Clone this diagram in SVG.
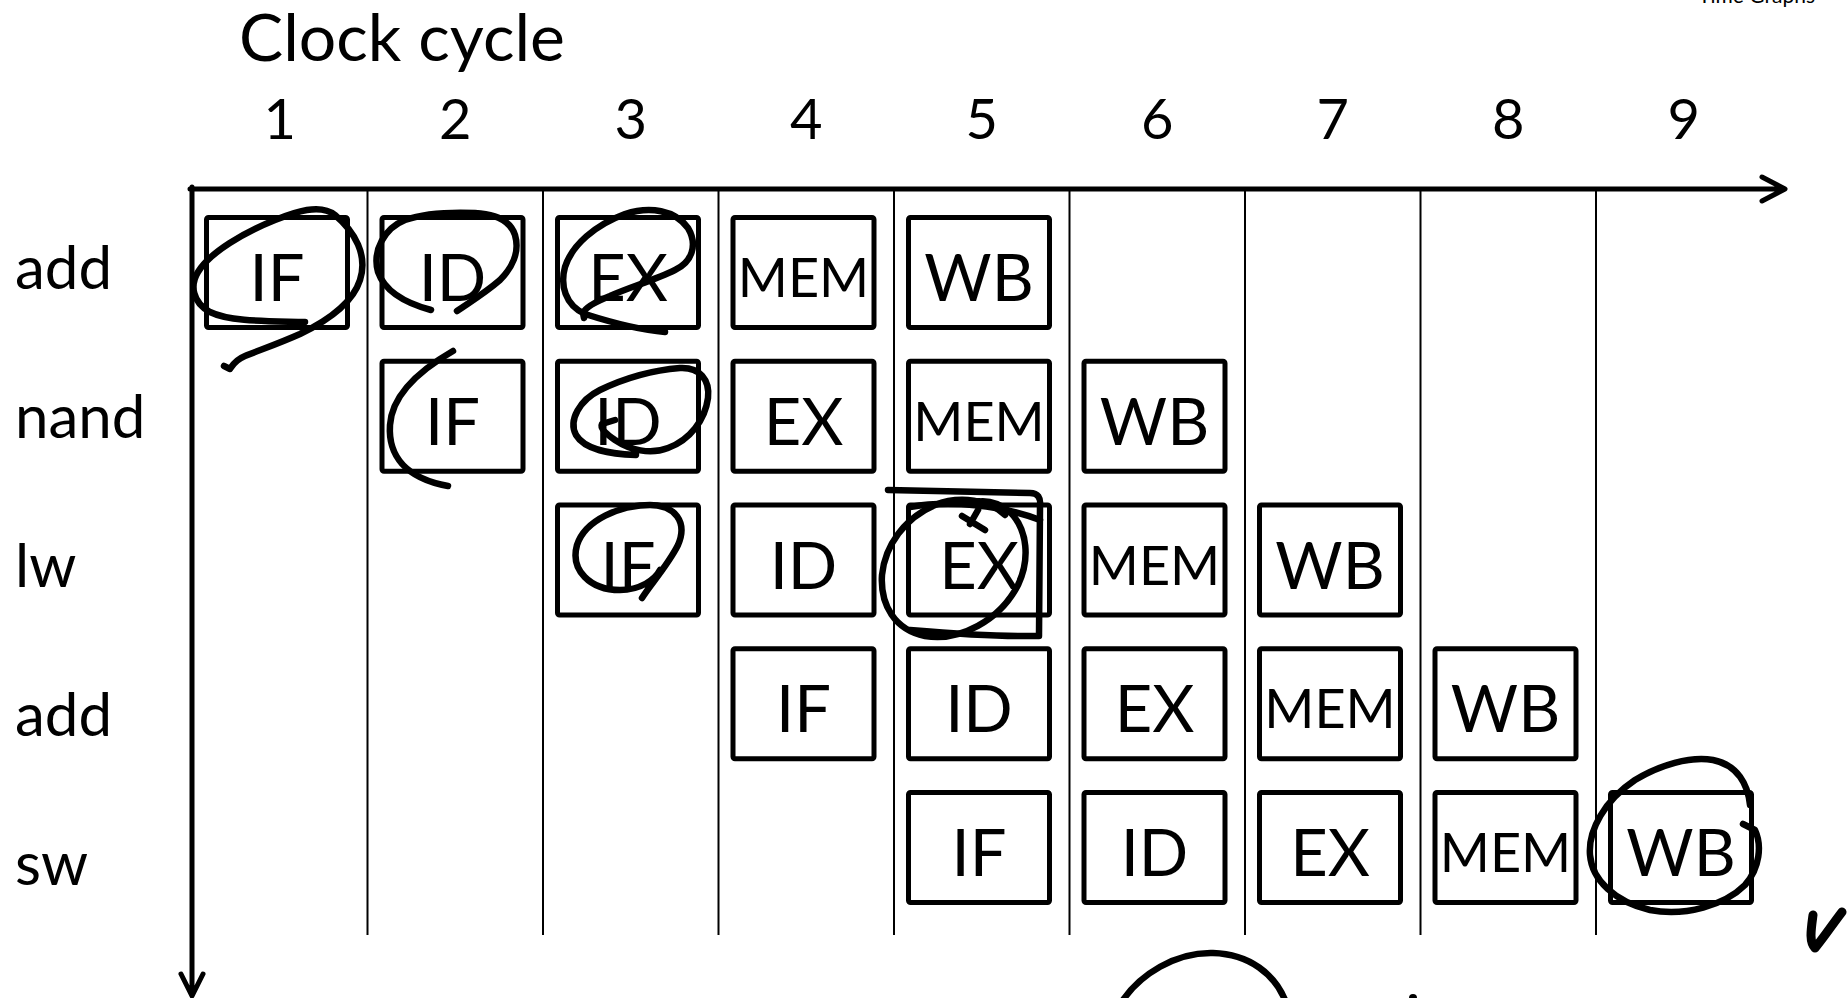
<svg xmlns="http://www.w3.org/2000/svg" width="1847" height="998" viewBox="0 0 1847 998">
<style>
text{font-family:Lato,"Open Sans","Liberation Sans",sans-serif;fill:#000}
.box{fill:none;stroke:#000;stroke-width:5;stroke-linejoin:round}
.st{font-size:65px;text-anchor:middle}
.mem{font-size:54px;text-anchor:middle}
.num{font-size:56px;text-anchor:middle}
.lbl{font-size:60px}
.ax{fill:none;stroke:#000;stroke-width:5;stroke-linecap:round;stroke-linejoin:round}
.grid{stroke:#000;stroke-width:2}
.ink{fill:none;stroke:#000;stroke-width:6.5;stroke-linecap:round;stroke-linejoin:round}
</style>
<rect x="0" y="0" width="1847" height="998" fill="#fff"/>
<text x="1815" y="3" font-size="21" text-anchor="end">Time Graphs</text>
<text x="239" y="61" font-size="65" textLength="326" lengthAdjust="spacingAndGlyphs">Clock cycle</text>
<g id="cycle-numbers">
<text class="num" x="279.75" y="139">1</text>
<text class="num" x="455.25" y="139">2</text>
<text class="num" x="630.75" y="139">3</text>
<text class="num" x="806.25" y="139">4</text>
<text class="num" x="981.75" y="139">5</text>
<text class="num" x="1157.25" y="139">6</text>
<text class="num" x="1332.75" y="139">7</text>
<text class="num" x="1508.25" y="139">8</text>
<text class="num" x="1683.75" y="139">9</text>
</g>
<g id="row-labels">
<text class="lbl" x="15" y="289">add</text>
<text class="lbl" x="15" y="438">nand</text>
<text class="lbl" x="15" y="587">lw</text>
<text class="lbl" x="15" y="736">add</text>
<text class="lbl" x="15" y="885">sw</text>
</g>
<g id="connectors">
<g class="grid">
<line x1="367.5" y1="189" x2="367.5" y2="935"/>
<line x1="543" y1="189" x2="543" y2="935"/>
<line x1="718.5" y1="189" x2="718.5" y2="935"/>
<line x1="894" y1="189" x2="894" y2="935"/>
<line x1="1069.5" y1="189" x2="1069.5" y2="935"/>
<line x1="1245" y1="189" x2="1245" y2="935"/>
<line x1="1420.5" y1="189" x2="1420.5" y2="935"/>
<line x1="1596" y1="189" x2="1596" y2="935"/>
</g>
<path class="ax" d="M190 189 L1784 189 M1762 177 L1785 189 L1762 201"/>
<path class="ax" d="M192 187 L192 995 M181 974 L192 996 L203 974"/>
</g>
<g id="row1-add">
<rect class="box" x="206.5" y="217.5" width="141" height="110" rx="2"/><text class="st" x="277" y="301">IF</text>
<rect class="box" x="382" y="217.5" width="141" height="110" rx="2"/><text class="st" x="452.5" y="301">ID</text>
<rect class="box" x="557.5" y="217.5" width="141" height="110" rx="2"/><text class="st" x="628" y="301">EX</text>
<rect class="box" x="733" y="217.5" width="141" height="110" rx="2"/><text class="mem" x="803.5" y="297">MEM</text>
<rect class="box" x="908.5" y="217.5" width="141" height="110" rx="2"/><text class="st" x="979" y="301">WB</text>
</g>
<g id="row2-nand">
<rect class="box" x="382" y="361.25" width="141" height="110" rx="2"/><text class="st" x="452.5" y="444.75">IF</text>
<rect class="box" x="557.5" y="361.25" width="141" height="110" rx="2"/><text class="st" x="628" y="444.75">ID</text>
<rect class="box" x="733" y="361.25" width="141" height="110" rx="2"/><text class="st" x="803.5" y="444.75">EX</text>
<rect class="box" x="908.5" y="361.25" width="141" height="110" rx="2"/><text class="mem" x="979" y="440.75">MEM</text>
<rect class="box" x="1084" y="361.25" width="141" height="110" rx="2"/><text class="st" x="1154.5" y="444.75">WB</text>
</g>
<g id="row3-lw">
<rect class="box" x="557.5" y="505" width="141" height="110" rx="2"/><text class="st" x="628" y="588.5">IF</text>
<rect class="box" x="733" y="505" width="141" height="110" rx="2"/><text class="st" x="803.5" y="588.5">ID</text>
<rect class="box" x="908.5" y="505" width="141" height="110" rx="2"/><text class="st" x="979" y="588.5">EX</text>
<rect class="box" x="1084" y="505" width="141" height="110" rx="2"/><text class="mem" x="1154.5" y="584.5">MEM</text>
<rect class="box" x="1259.5" y="505" width="141" height="110" rx="2"/><text class="st" x="1330" y="588.5">WB</text>
</g>
<g id="row4-add">
<rect class="box" x="733" y="648.75" width="141" height="110" rx="2"/><text class="st" x="803.5" y="732.25">IF</text>
<rect class="box" x="908.5" y="648.75" width="141" height="110" rx="2"/><text class="st" x="979" y="732.25">ID</text>
<rect class="box" x="1084" y="648.75" width="141" height="110" rx="2"/><text class="st" x="1154.5" y="732.25">EX</text>
<rect class="box" x="1259.5" y="648.75" width="141" height="110" rx="2"/><text class="mem" x="1330" y="728.25">MEM</text>
<rect class="box" x="1435" y="648.75" width="141" height="110" rx="2"/><text class="st" x="1505.5" y="732.25">WB</text>
</g>
<g id="row5-sw">
<rect class="box" x="908.5" y="792.5" width="141" height="110" rx="2"/><text class="st" x="979" y="876">IF</text>
<rect class="box" x="1084" y="792.5" width="141" height="110" rx="2"/><text class="st" x="1154.5" y="876">ID</text>
<rect class="box" x="1259.5" y="792.5" width="141" height="110" rx="2"/><text class="st" x="1330" y="876">EX</text>
<rect class="box" x="1435" y="792.5" width="141" height="110" rx="2"/><text class="mem" x="1505.5" y="872">MEM</text>
<rect class="box" x="1610.5" y="792.5" width="141" height="110" rx="2"/><text class="st" x="1681" y="876">WB</text>
</g>
<g id="annotations">
<path class="ink" d="M305,322 C270,321 230,322 210,312 C192,302 190,285 198,272 C210,252 245,232 275,220 C295,212 320,203 335,215 C355,232 368,255 360,280 C352,305 325,322 300,334 C280,343 260,350 245,356 C235,360 232,366 230,369 L224,366"/>
<path class="ink" d="M431,310 C405,303 385,292 378,272 C372,250 385,228 405,220 C425,213 450,212 475,213 C495,214 510,220 515,235 C520,252 512,268 500,280 C485,293 470,302 457,311"/>
<path class="ink" d="M665,332 C640,330 610,322 585,314 C565,305 560,285 565,267 C572,245 595,225 625,214 C650,206 675,210 688,228 C698,245 692,262 675,270 C655,280 630,287 610,296 C595,302 585,308 583,313 L584,318"/>
<path class="ink" d="M453,351 C420,370 392,395 390,425 C388,455 405,478 448,486"/>
<path class="ink" d="M636,455 C610,454 585,450 576,435 C568,420 580,400 600,390 C625,378 655,370 680,368 C700,367 710,380 708,398 C705,420 690,440 668,448 C650,455 630,450 615,440 C605,433 600,428 602,424 L615,420"/>
<path class="ink" d="M642,598 C650,585 668,565 678,545 C688,522 675,505 650,505 C620,505 585,520 577,545 C570,570 590,590 620,590 C640,590 655,580 660,570"/>
<path class="ink" d="M1005,515 C990,500 960,495 935,505 C905,518 885,545 882,575 C880,605 895,630 925,636 C960,642 1000,620 1018,585 C1030,560 1028,530 1010,512 C998,502 985,500 975,502"/>
<path class="ink" d="M888,490 C940,491 990,492 1030,493 C1038,493 1041,498 1040,506 L1039,636 L1020,636 C980,636 945,633 910,630"/>
<path class="ink" d="M910,507 C950,500 1000,505 1040,520"/>
<path class="ink" d="M962,516 L985,530 M978,510 L970,524"/>
<path class="ink" d="M1750,805 C1748,785 1738,765 1713,760 C1690,756 1660,765 1635,780 C1605,800 1588,830 1590,855 C1592,880 1615,902 1650,910 C1685,917 1725,905 1745,885 C1760,868 1762,845 1755,830 L1743,824"/>
<path class="ink" style="stroke-width:9" d="M1813,915 C1811,930 1809,942 1815,948 C1822,940 1832,925 1842,912"/>
<path class="ink" d="M1123,1000 C1140,975 1175,952 1213,953 C1250,954 1275,975 1285,1000"/>
<circle cx="1413" cy="998" r="4" fill="#000"/>
</g>
</svg>
